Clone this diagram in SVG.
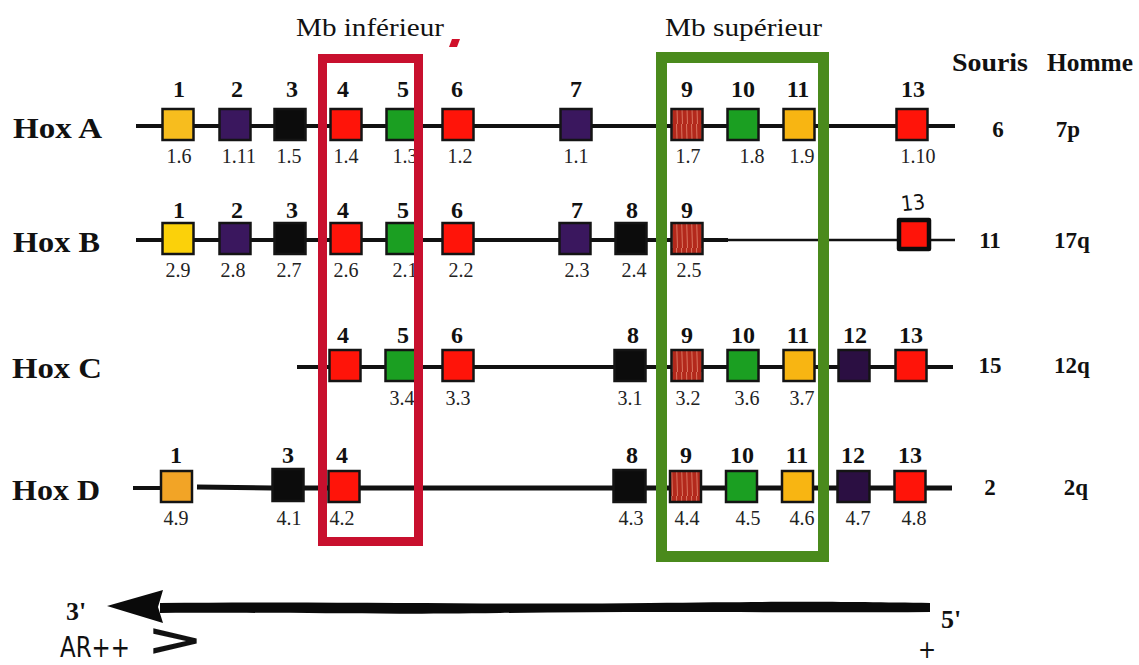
<svg xmlns="http://www.w3.org/2000/svg" width="1139" height="665" viewBox="0 0 1139 665">
  <style>
    text { font-family: "Liberation Serif", "Times New Roman", serif; fill: #111; }
    .hox { font-size: 30px; font-weight: bold; }
    .num { font-size: 24px; font-weight: bold; text-anchor: middle; }
    .sub { font-size: 20px; text-anchor: middle; fill: #222; }
    .hdr { font-size: 25px; font-weight: bold; text-anchor: middle; }
    .chr { font-size: 23px; font-weight: bold; text-anchor: middle; }
    .title { font-size: 26px; }
    .box { stroke: #141414; stroke-width: 2.5; }
    .yel { fill: #f7bd1e; }
    .ylw { fill: #fbd10a; }
    .ora { fill: #f2a426; }
    .org { fill: #f8b512; }
    .pur { fill: #3a175e; }
    .dpu { fill: #2b0f42; }
    .blk { fill: #0c0c0c; }
    .red { fill: #ff1409; }
    .grn { fill: #1b9f22; }
    .brn { fill: url(#hatch); }
    .line { stroke: #111; stroke-width: 4; fill: none; stroke-linecap: butt; }
    .hand { font-family: "DejaVu Sans Condensed", "DejaVu Sans", sans-serif; }
  </style>
  <defs>
    <pattern id="hatch" width="5" height="31" patternUnits="userSpaceOnUse">
      <rect width="5" height="31" fill="#b3291c"/>
      <path d="M1.5 0 L2.5 31" stroke="#d9735f" stroke-width="1"/>
    </pattern>
  </defs>

  <!-- zone labels -->
  <text class="title" x="296" y="36" textLength="148" lengthAdjust="spacingAndGlyphs">Mb inférieur</text>
  <text class="title" x="665" y="36" textLength="157" lengthAdjust="spacingAndGlyphs">Mb supérieur</text>
  <polygon points="452,39 460,39 457,47 449,47" fill="#d0102a"/>

  <!-- column headers -->
  <text class="hdr" x="990" y="71" textLength="76" lengthAdjust="spacingAndGlyphs">Souris</text>
  <text class="hdr" x="1090" y="71" textLength="86" lengthAdjust="spacingAndGlyphs">Homme</text>

  <!-- chromosome backbones -->
  <g id="connectors">
    <path class="line" d="M136 126 H955"/>
    <path class="line" d="M136 240 H728"/>
    <path class="line" d="M728 240 H955" style="stroke-width:2.5"/>
    <path class="line" d="M297 367 H953"/>
    <path class="line" d="M133 488 H192"/>
    <path class="line" d="M197 487 L272 488 H952" style="stroke-width:5"/>
  </g>

  <!-- Hox A cluster -->
  <g id="hoxA">
    <text class="hox" x="13" y="138" textLength="89" lengthAdjust="spacingAndGlyphs">Hox  A</text>
    <g id="a1"><rect class="box yel" x="162.5" y="109" width="31" height="31"/><text class="num" x="179" y="97">1</text><text class="sub" x="179" y="163">1.6</text></g>
    <g id="a2"><rect class="box pur" x="219.5" y="109" width="31" height="31"/><text class="num" x="237" y="97">2</text><text class="sub" x="239" y="163">1.11</text></g>
    <g id="a3"><rect class="box blk" x="274.5" y="109" width="31" height="31"/><text class="num" x="292" y="97">3</text><text class="sub" x="289" y="163">1.5</text></g>
    <g id="a4"><rect class="box red" x="330.5" y="109" width="31" height="31"/><text class="num" x="343" y="97">4</text><text class="sub" x="346" y="163">1.4</text></g>
    <g id="a5"><rect class="box grn" x="386.5" y="109" width="31" height="31"/><text class="num" x="403" y="97">5</text><text class="sub" x="405" y="163">1.3</text></g>
    <g id="a6"><rect class="box red" x="442.5" y="109" width="31" height="31"/><text class="num" x="457" y="97">6</text><text class="sub" x="460" y="163">1.2</text></g>
    <g id="a7"><rect class="box pur" x="560.5" y="109" width="31" height="31"/><text class="num" x="576" y="97">7</text><text class="sub" x="576" y="163">1.1</text></g>
    <g id="a9"><rect class="box brn" x="671.5" y="109" width="31" height="31"/><text class="num" x="687" y="97">9</text><text class="sub" x="688" y="163">1.7</text></g>
    <g id="a10"><rect class="box grn" x="727.5" y="109" width="31" height="31"/><text class="num" x="743" y="97">10</text><text class="sub" x="752" y="163">1.8</text></g>
    <g id="a11"><rect class="box org" x="783.5" y="109" width="31" height="31"/><text class="num" x="798" y="97">11</text><text class="sub" x="802" y="163">1.9</text></g>
    <g id="a13"><rect class="box red" x="896.5" y="109" width="31" height="31"/><text class="num" x="913" y="97">13</text><text class="sub" x="918" y="163">1.10</text></g>
    <text class="chr" x="998" y="137">6</text>
    <text class="chr" x="1068" y="137">7p</text>
  </g>

  <!-- Hox B cluster -->
  <g id="hoxB">
    <text class="hox" x="13" y="252" textLength="87" lengthAdjust="spacingAndGlyphs">Hox  B</text>
    <g id="b1"><rect class="box ylw" x="162.5" y="223" width="31" height="31"/><text class="num" x="179" y="218">1</text><text class="sub" x="178" y="277">2.9</text></g>
    <g id="b2"><rect class="box pur" x="219.5" y="223" width="31" height="31"/><text class="num" x="237" y="218">2</text><text class="sub" x="233" y="277">2.8</text></g>
    <g id="b3"><rect class="box blk" x="274.5" y="223" width="31" height="31"/><text class="num" x="292" y="218">3</text><text class="sub" x="289" y="277">2.7</text></g>
    <g id="b4"><rect class="box red" x="330.5" y="223" width="31" height="31"/><text class="num" x="343" y="218">4</text><text class="sub" x="346" y="277">2.6</text></g>
    <g id="b5"><rect class="box grn" x="386.5" y="223" width="31" height="31"/><text class="num" x="403" y="218">5</text><text class="sub" x="405" y="277">2.1</text></g>
    <g id="b6"><rect class="box red" x="442.5" y="223" width="31" height="31"/><text class="num" x="457" y="218">6</text><text class="sub" x="461" y="277">2.2</text></g>
    <g id="b7"><rect class="box pur" x="559.5" y="223" width="31" height="31"/><text class="num" x="577" y="218">7</text><text class="sub" x="577" y="277">2.3</text></g>
    <g id="b8"><rect class="box blk" x="615.5" y="223" width="31" height="31"/><text class="num" x="632" y="218">8</text><text class="sub" x="634" y="277">2.4</text></g>
    <g id="b9"><rect class="box brn" x="671.5" y="223" width="31" height="31"/><text class="num" x="687" y="218">9</text><text class="sub" x="689" y="277">2.5</text></g>
    <g id="b13">
      <rect x="899" y="220" width="30" height="29" fill="#ff1409" stroke="#0c0c0c" stroke-width="4.5" stroke-linejoin="round"/>
      <text class="hand" x="913" y="210" font-size="21" fill="#2a1d55" text-anchor="middle" transform="rotate(-6 913 203)">13</text>
    </g>
    <text class="chr" x="990" y="248">11</text>
    <text class="chr" x="1072" y="248">17q</text>
  </g>

  <!-- Hox C cluster -->
  <g id="hoxC">
    <text class="hox" x="12" y="378" textLength="90" lengthAdjust="spacingAndGlyphs">Hox  C</text>
    <g id="c4"><rect class="box red" x="329.5" y="350" width="31" height="31"/><text class="num" x="343" y="343">4</text></g>
    <g id="c5"><rect class="box grn" x="385.5" y="350" width="31" height="31"/><text class="num" x="403" y="343">5</text><text class="sub" x="402" y="405">3.4</text></g>
    <g id="c6"><rect class="box red" x="442.5" y="350" width="31" height="31"/><text class="num" x="457" y="343">6</text><text class="sub" x="458" y="405">3.3</text></g>
    <g id="c8"><rect class="box blk" x="614.5" y="350" width="31" height="31"/><text class="num" x="633" y="343">8</text><text class="sub" x="630" y="405">3.1</text></g>
    <g id="c9"><rect class="box brn" x="671.5" y="350" width="31" height="31"/><text class="num" x="687" y="343">9</text><text class="sub" x="688" y="405">3.2</text></g>
    <g id="c10"><rect class="box grn" x="727.5" y="350" width="31" height="31"/><text class="num" x="743" y="343">10</text><text class="sub" x="747" y="405">3.6</text></g>
    <g id="c11"><rect class="box org" x="783.5" y="350" width="31" height="31"/><text class="num" x="798" y="343">11</text><text class="sub" x="802" y="405">3.7</text></g>
    <g id="c12"><rect class="box dpu" x="838.5" y="350" width="31" height="31"/><text class="num" x="855" y="343">12</text></g>
    <g id="c13"><rect class="box red" x="895.5" y="350" width="31" height="31"/><text class="num" x="911" y="343">13</text></g>
    <text class="chr" x="990" y="373">15</text>
    <text class="chr" x="1072" y="373">12q</text>
  </g>

  <!-- Hox D cluster -->
  <g id="hoxD">
    <text class="hox" x="12" y="500" textLength="88" lengthAdjust="spacingAndGlyphs">Hox  D</text>
    <g id="d1"><rect class="box ora" x="161" y="471" width="31" height="31"/><text class="num" x="176" y="463">1</text><text class="sub" x="176" y="525">4.9</text></g>
    <g id="d3"><rect class="box blk" x="272.5" y="469" width="31" height="32"/><text class="num" x="288" y="463">3</text><text class="sub" x="289" y="525">4.1</text></g>
    <g id="d4"><rect class="box red" x="328.5" y="471" width="31" height="31"/><text class="num" x="342" y="463">4</text><text class="sub" x="342" y="525">4.2</text></g>
    <g id="d8"><rect class="box blk" x="613.5" y="470" width="32" height="32"/><text class="num" x="632" y="463">8</text><text class="sub" x="631" y="525">4.3</text></g>
    <g id="d9"><rect class="box brn" x="670" y="471" width="31" height="31"/><text class="num" x="686" y="463">9</text><text class="sub" x="687" y="525">4.4</text></g>
    <g id="d10"><rect class="box grn" x="726" y="471" width="31" height="31"/><text class="num" x="742" y="463">10</text><text class="sub" x="748" y="525">4.5</text></g>
    <g id="d11"><rect class="box org" x="782" y="471" width="31" height="31"/><text class="num" x="797" y="463">11</text><text class="sub" x="802" y="525">4.6</text></g>
    <g id="d12"><rect class="box dpu" x="837.5" y="471" width="32" height="31"/><text class="num" x="853" y="463">12</text><text class="sub" x="858" y="525">4.7</text></g>
    <g id="d13"><rect class="box red" x="894.5" y="471" width="31" height="31"/><text class="num" x="910" y="463">13</text><text class="sub" x="914" y="525">4.8</text></g>
    <text class="chr" x="990" y="495">2</text>
    <text class="chr" x="1076" y="495">2q</text>
  </g>

  <!-- limb territory frames -->
  <rect id="mb-inf" x="322.5" y="58.5" width="96" height="483" fill="none" stroke="#c8102e" stroke-width="9"/>
  <rect id="mb-sup" x="661.5" y="57.5" width="162" height="499" fill="none" stroke="#4a8a1c" stroke-width="11"/>

  <!-- 5' to 3' orientation arrow -->
  <g id="axis">
    <path d="M160 603 C 350 601, 500 605, 650 603 S 850 602, 930 603 L930 612 C 800 613, 650 611, 500 613 S 300 612, 160 613 Z" fill="#0a0a0a"/>
    <polygon points="107,606 163,590 158,607 163,623" fill="#0a0a0a"/>
    <text x="66" y="620" font-size="26" font-weight="bold">3'</text>
    <text x="941" y="628" font-size="26" font-weight="bold">5'</text>
    <text class="hand" x="60" y="657" font-size="28" fill="#24163a" textLength="70" lengthAdjust="spacingAndGlyphs">AR++</text>
    <text class="hand" x="146" y="655" font-size="44" font-weight="bold" fill="#0a0a0a" textLength="58" lengthAdjust="spacingAndGlyphs">&gt;</text>
    <text class="hand" x="927" y="658" font-size="24" fill="#0a0a0a" text-anchor="middle">+</text>
  </g>
</svg>
